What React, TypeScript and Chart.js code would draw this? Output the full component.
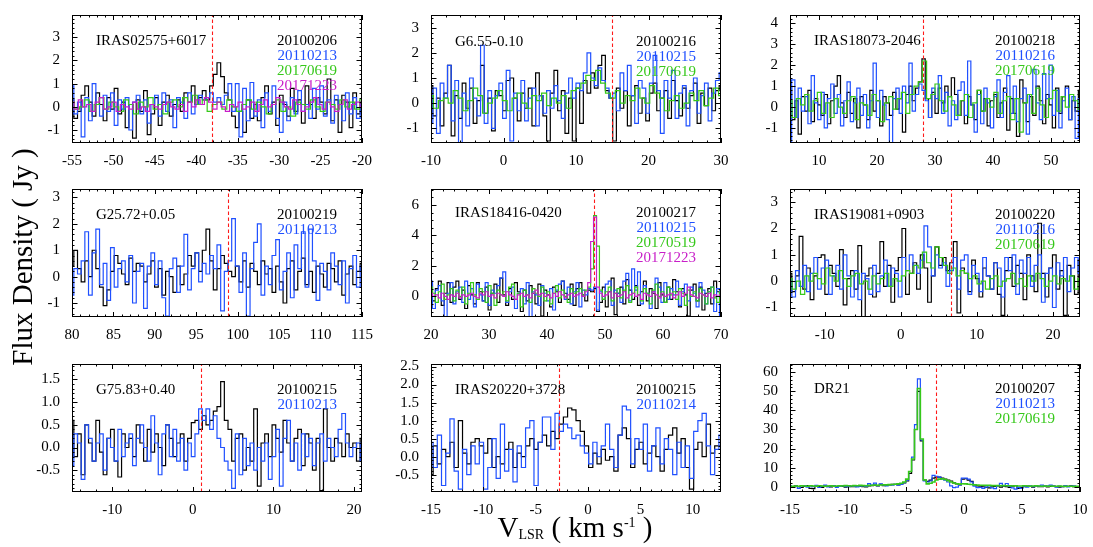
import React, { useEffect, useRef } from "react";
import { Chart, registerables } from "chart.js";

Chart.register(...registerables);

const FONT = "'Liberation Serif', 'Times New Roman', Times, serif";
const BLACK = "#000000";
const BLUE = "#1f50ff";
const GREEN = "#36c81a";
const MAGENTA = "#c81ec8";
const RED = "#ff1a1a";

// ---------------- Panel 1: IRAS02575+6017 ----------------
const p1Name = "IRAS02575+6017";
const p1Dates = ["20100206", "20110213", "20170619", "20171223"];
const p1XTicks = [-55, -50, -45, -40, -35, -30, -25, -20];
const p1YTicks = [-1, 0, 1, 2, 3];
const p1Vsys = -38.1;
const p1Black = [
  0.3, -0.5, -0.2, 0.5, 0.9, 0.2, -0.4, 0.6, 0.1, -0.6,
  0.4, -0.1, 0.8, -0.3, 0.2, -0.9, 0.1, -1.35, 0.3, -0.2,
  0.7, -1.2, -0.3, 0.4, -0.8, 0.2, 0.5, -0.4, 0.1, 0.3,
  -0.2, 0.6, 0.2, 0.9, 0.1, 0.4, 0.7, 0.3, 0.9, 1.4,
  1.9, 1.3, 0.6, 0.3, -0.4, -0.9, -0.2, -1.1, 0.3, -0.5,
  0.1, -0.6, 0.4, 0.9, -0.3, 0.2, -0.8, 0.5, 0.1, -0.4,
  0.8, -0.2, 0.3, -0.7, 0.9, 0.1, -0.5, 0.4, 0.2, -0.3,
  1.2, -0.6, 0.3, -1.1, 0.5, 0.2, -0.9, 0.6, -0.3, 0.2,
];
const p1Blue = [
  0.9, -0.3, 0.2, -1.3, 0.4, -0.6, 1.0, 0.1, -0.4, 0.5,
  -0.2, 0.6, -0.8, 0.3, -0.1, 0.4, -1.0, 0.2, 0.5, -0.3,
  0.3, -0.7, 0.1, 0.5, -0.4, 0.6, -0.2, 0.3, -0.9, 0.4,
  0.2, -0.5, 0.6, -0.3, 0.1, 0.5, 0.3, 0.4, 0.6, 0.2,
  0.4, 0.1, 0.5, 1.0, -0.2, 1.0, -1.3, 0.8, -0.6, 1.05,
  -0.4, 0.3, -0.9, 0.6, -0.2, 0.9, -0.5, -1.1, 0.2, -0.6,
  0.4, -0.3, 0.7, -0.2, 0.1, -0.5, 0.8, -0.1, 0.9, -0.4,
  0.3, -0.7, 0.5, 0.1, -0.6, 0.6, -0.3, 0.4, -0.5, 0.1,
];
const p1Green = [
  0.2, -0.1, 0.0, 0.3, -0.2, 0.1, 0.4, -0.1, 0.2, 0.0,
  -0.2, 0.3, 0.1, -0.3, 0.2, 0.0, 0.4, -0.1, 0.1, -0.3,
  0.2, 0.3, 0.0, 0.4, 0.2, 0.5, 0.1, 0.3, -0.2, 0.1,
  0.2, -0.1, 0.3, 0.0, -0.2, 0.1, 0.3, -0.1, 0.2, 0.0,
  -0.3, 0.1, 0.3, -0.2, 0.0, -0.4, 0.2, 0.1, -0.1, 0.3,
  0.0, -0.2, 0.2, 0.1, -0.1, 0.3, 0.0, 0.2, -0.1, 0.3,
];
const p1Magenta = [
  0.2, -0.1, 0.3, 0.0, 0.1, -0.2, 0.2, 0.4, -0.1, 0.0,
  0.2, -0.2, 0.1, 0.0, -0.1, 0.2, -0.1, 0.0, -0.2, 0.1,
  0.0, -0.1, 0.1, 0.2, 0.0, -0.1, 0.1, -0.2, 0.2, 0.0,
  0.3, 0.1, 0.4, 0.2, -0.1, 0.2, 0.0, -0.2, 0.1, 0.0,
  0.2, -0.1, 0.0, 0.2, -0.2, 0.1, 0.3, 0.0, 0.1, 0.4,
  0.2, 0.0, -0.1, 0.3, 0.1, -0.2, 0.0, 0.2, 0.4, 0.1,
  -0.1, 0.2, 0.0, -0.2, 0.1, 0.3, -0.1, 0.1, 0.2, 0.0,
];

// ---------------- Panel 2: G6.55-0.10 ----------------
const p2Name = "G6.55-0.10";
const p2Dates = ["20100216", "20110215", "20170619"];
const p2XTicks = [-10, 0, 10, 20, 30];
const p2YTicks = [-1, 0, 1, 2, 3];
const p2Vsys = 15.0;
const p2Black = [
  0.7, -0.5, 0.2, -0.9, 0.4, 1.5, -1.3, 0.3, -0.6, 0.8,
  -0.2, 0.6, -0.8, 0.1, 1.5, -0.4, 0.2, -1.1, 0.5, 0.3,
  -0.3, 0.9, 1.0, 0.2, -0.7, 0.4, -0.2, 0.6, -0.9, 1.2,
  0.3, -0.5, -1.5, 0.4, 1.3, -0.3, 0.5, -1.2, 0.2, -1.5,
  0.6, -0.8, 0.9, 0.4, 1.2, 0.6, 1.5, 1.9, 0.5, 0.2,
  -1.5, 0.6, -0.2, 0.5, -0.9, 0.3, 0.7, -0.4, 0.2, -0.7,
  0.4, 0.8, -0.3, 0.2, 0.5, -0.6, 0.9, 0.1, -0.5, 0.6,
  -0.2, 0.3, 0.8, -0.8, 0.4, -0.1, 0.6, -0.3, 0.5, 0.7,
];
const p2Blue = [
  -0.8, 0.6, -1.2, 0.8, 0.2, 1.5, -0.7, 0.9, -1.6, 0.4,
  -0.9, 1.0, 0.2, -0.5, 2.3, -0.8, 0.5, -1.0, 0.3, 0.8,
  -0.6, 1.3, -1.5, 0.4, -0.3, 0.9, -0.7, 0.2, 0.6, -0.9,
  0.3, -0.4, 0.5, -0.2, 0.7, 0.1, -0.6, 0.4, 1.0, 0.2,
  0.8, 0.5, 1.2, 2.0, 1.0, 0.7, 1.4, 0.9, 0.6, 0.2,
  0.4, -0.3, 1.2, 0.5, 1.5, 0.3, -0.8, 0.9, 0.6, -0.4,
  0.8, 1.9, 0.5, -1.2, 0.9, 0.2, 1.3, -0.6, 0.4, 0.7,
  -0.9, 0.5, 1.0, -0.4, 0.3, 0.8, -0.7, 0.4, 0.9, 1.2,
];
const p2Green = [
  0.3, -0.2, 0.1, 0.2, 0.0, 0.5, 0.2, -0.3, 0.1, 0.6,
  0.3, -0.4, 0.0, 0.2, 0.5, 0.1, -0.3, 0.2, 0.4, 0.0,
  -0.2, 0.3, 0.1, 0.4, -0.1, 0.2, 0.0, 0.3, -0.2, 0.5,
  0.6, 0.8, 1.1, 0.9, 1.3, 0.8, 0.4, 0.2, 0.5, 0.0,
  0.3, 0.1, 0.6, 0.2, 0.0, 0.7, 0.4, 0.2, -0.3, 0.1,
  0.3, -0.2, 0.0, 0.4, 0.1, 0.5, -0.1, 0.2, 0.6, 0.3,
];

// ---------------- Panel 3: IRAS18073-2046 ----------------
const p3Name = "IRAS18073-2046";
const p3Dates = ["20100218", "20110216", "20170619"];
const p3XTicks = [10, 20, 30, 40, 50];
const p3YTicks = [-1, 0, 1, 2, 3, 4];
const p3Vsys = 28.0;
const p3Black = [
  1.0, -0.6, 0.3, -1.3, 0.5, -0.2, 0.8, -0.7, 0.4, 0.1,
  -0.4, 0.6, -0.8, 0.3, 1.0, 1.5, 0.2, -0.5, 0.7, -0.3,
  0.4, -1.0, 0.5, 0.1, -0.6, 0.8, -0.2, 0.3, -0.9, 0.5,
  0.2, -0.4, 0.7, -0.1, 0.4, -1.2, 0.6, 1.0, 0.3, 0.9,
  1.2, 2.3, 0.4, -0.5, 0.7, -0.3, 0.9, 0.2, 1.0, 0.5,
  1.4, 0.6, -0.4, 0.3, -0.8, 0.5, 0.1, -0.6, 0.8, -0.2,
  0.4, -0.9, 0.3, 0.6, -0.5, 0.2, 0.9, -1.1, 0.4, -0.3,
  -1.4, 1.3, 0.2, -0.7, 0.5, -0.4, 1.0, 0.3, -0.8, 0.6,
  0.1, -1.0, 0.9, -0.3, 0.5, 1.0, -0.6, 0.3, -0.2, 0.8,
];
const p3Blue = [
  -1.7, 1.3, -0.5, 0.9, -0.2, 0.5, -0.8, 1.5, 0.2, -0.6,
  0.7, -1.0, 0.4, 1.1, -0.3, 0.6, -0.9, 0.3, 1.2, -0.7,
  0.2, 0.9, -0.4, 0.6, -1.0, 0.3, 2.1, -0.5, 0.8, 0.1,
  -0.6, -1.7, 0.4, 0.9, -0.3, 1.0, 0.2, 2.1, -0.2, 0.6,
  1.1, 0.8, 0.3, -0.5, 0.9, 0.4, 1.5, -0.3, 0.7, -0.9,
  0.3, -0.6, 0.8, 1.2, -0.4, 2.2, 0.1, -1.2, 0.6, -0.8,
  0.9, 0.2, -1.0, 0.5, 1.3, -0.5, 0.7, 1.5, -0.3, 1.0,
  -0.7, 0.4, 0.9, -1.3, 0.6, 1.8, 0.2, -0.6, 1.6, 0.4,
  2.0, -0.4, 0.8, -1.0, 0.3, 0.9, -0.6, 0.5, -1.5, 0.4,
];
const p3Green = [
  0.3, -0.5, 0.4, 0.1, 0.6, -0.2, 0.3, 0.7, -0.3, 0.2,
  -0.5, 0.4, 0.0, -0.3, 0.3, 0.5, -0.6, 0.2, 0.1, -0.4,
  0.6, 0.3, -0.7, 0.2, 0.5, -0.1, 0.4, 0.7, -0.3, 0.6,
  1.0, 1.2, 2.2, 0.4, 0.6, 1.1, 0.3, -0.2, 0.5, 0.1,
  -0.4, 0.3, 0.6, -0.5, 0.2, 0.8, -0.2, 0.4, 0.0, 0.7,
  -0.3, 0.3, 0.5, -0.6, 0.4, -1.2, 0.2, 0.6, -0.3, 0.9,
  0.1, -0.5, 0.4, 0.8, -0.2, 0.5, 0.0, 0.6, 0.3, -0.1,
];

// ---------------- Panel 4: G25.72+0.05 ----------------
const p4Name = "G25.72+0.05";
const p4Dates = ["20100219", "20110213"];
const p4XTicks = [80, 85, 90, 95, 100, 105, 110, 115];
const p4YTicks = [-1, 0, 1, 2, 3];
const p4Vsys = 98.8;
const p4Black = [
  0.4, 1.0, 0.3, -0.2, 0.6, 0.0, 1.0, 0.3, -0.4, -1.1,
  -0.5, 0.2, 0.8, 0.5, 0.1, -0.3, 0.7, 0.2, 0.5, 0.4,
  -0.2, 0.1, 0.6, -0.4, 0.3, -0.7, 0.2, 0.0, -0.6, 0.4,
  -0.3, 0.1, 0.8, 0.4, 0.9, 0.2, 1.0, 1.8, 0.6, -0.5,
  0.3, 0.8, 0.5, 0.2, 0.0, 0.4, -0.2, 0.6, -0.4, 0.5,
  0.2, -0.3, 0.6, 0.1, 0.3, -0.6, 0.4, -0.2, -1.0, 0.3,
  0.6, -0.5, 0.2, 0.7, -0.3, 0.2, -0.6, 0.4, 0.1, -0.4,
  0.5, 0.3, -0.2, 0.6, -0.7, 0.1, 0.4, -0.3, 0.2, 0.5,
];
const p4Blue = [
  -0.7, 0.3, 0.1, 0.6, 1.7, -0.7, 0.9, 1.8, -0.3, 0.5,
  -0.9, 1.1, -0.4, 0.3, 0.6, -0.2, 0.8, -1.0, 0.2, 0.5,
  -1.2, 0.4, 0.9, -0.3, 0.6, -0.8, -1.5, 0.3, 0.7, -0.6,
  0.4, 1.6, -0.5, 0.3, 0.9, -0.2, 0.5, 0.1, 0.8, 0.3,
  1.2, -1.3, 0.2, 0.6, 2.2, 0.4, -0.6, 0.9, -1.5, 0.3,
  1.3, 2.0, -0.7, 0.4, -0.3, 0.8, 1.4, -0.5, 0.2, 0.9,
  -0.8, 1.2, 0.3, 1.7, -0.4, 1.8, 0.6, -0.9, 0.5, 0.2,
  -0.5, 0.9, 0.4, -0.3, 0.6, -1.0, 0.3, 0.8, -0.4, 0.4,
];

// ---------------- Panel 5: IRAS18416-0420 ----------------
const p5Name = "IRAS18416-0420";
const p5Dates = ["20100217", "20110215", "20170519", "20171223"];
const p5XTicks = [20, 30, 40, 50, 60, 70];
const p5YTicks = [0, 2, 4, 6];
const p5Vsys = 48.1;
const p5Black = [
  0.8, -0.3, 0.5, 1.0, -0.6, 0.2, 0.9, -0.4, 0.6, 1.0,
  -0.2, 0.4, -0.8, 0.7, 0.1, -0.5, 0.9, 0.3, -0.3, 0.6,
  -0.9, 0.2, 0.8, -0.4, 1.2, 0.1, -0.6, 0.5, -0.2, 0.9,
  0.3, -1.0, 0.4, -0.3, 0.7, 0.2, -0.5, 0.8, -1.3, 0.4,
  0.1, -0.7, 0.6, 0.3, -0.4, 1.0, 0.2, -0.2, 0.8, -0.6,
  0.5, 0.9, 0.1, -0.3, 0.4, 0.3, 0.5, -1.0, -0.4, 0.6,
  -0.7, 0.3, 1.2, -1.2, 0.2, 0.6, -0.5, 1.1, 0.4, -0.2,
  0.7, -0.6, 0.3, 1.0, -0.3, 0.5, 0.2, -0.8, 0.9, 0.1,
  -0.4, 0.6, -0.2, 1.1, 0.3, -0.7, 0.5, 0.1, -1.3, 0.4,
  0.8, -0.3, 0.6, -0.9, 0.2, 0.5, -0.5, 1.0, 0.3, -0.2,
];
const p5Blue = [
  1.0, -0.8, 0.4, 0.7, -0.3, -1.4, 0.2, 0.9, -0.5, 0.3,
  0.6, -0.4, 1.0, -0.2, 0.5, -0.7, 0.8, 0.1, -0.3, 0.9,
  -0.6, 0.4, 0.2, 0.7, 1.2, 1.6, -0.4, 0.3, 0.6, -0.8,
  0.2, 0.5, -0.5, 0.9, -1.4, 0.3, 0.1, -0.6, 0.7, 0.2,
  -0.3, 0.5, -0.9, 0.4, 0.8, 1.0, -0.2, 0.6, -0.5, 0.3,
  0.9, -0.7, 0.4, 0.1, 0.5, 0.4, 0.6, -0.9, 0.3, -0.2,
  0.8, 1.0, -0.6, 0.4, 0.2, -0.4, 1.0, 1.5, -0.3, 1.8,
  0.4, 1.6, -0.5, 0.7, 0.2, -0.8, 0.3, 1.2, 0.6, -0.4,
  0.9, -0.2, 0.5, 0.1, 1.0, -0.6, 0.3, 0.8, -0.3, 0.6,
  0.2, -0.7, 0.9, 0.4, -0.5, 0.3, 0.6, -1.0, 0.5, -1.4,
];
const p5Green = [
  0.6, 0.2, -0.4, 0.3, 0.8, -0.2, 0.1, 0.5, -0.3, 0.4,
  0.0, 0.6, -0.5, 0.2, 0.9, 0.1, -0.2, 0.5, 0.3, -0.4,
  0.7, 0.2, -0.6, 0.4, 0.1, 0.3, -0.3, 0.6, 0.8, -0.2,
  0.2, -0.7, 0.4, 0.1, -0.4, 0.5, 0.2, 0.0, 0.6, -0.3,
  0.3, -0.5, 0.2, 0.7, -0.1, 0.4, 0.0, -0.4, 0.5, 0.2,
  0.3, 0.5, 0.1, 0.4, 0.6, 1.8, 5.3, 3.3, 0.4, -0.2,
  0.3, 0.6, -0.3, 0.2, 0.5, -0.1, 0.4, 0.7, -0.4, 0.2,
  0.6, 0.1, -0.3, 0.5, 0.2, -0.5, 0.4, 0.8, 0.0, 0.3,
  -0.4, 0.6, 0.1, 0.3, -0.2, 0.5, 0.2, -0.6, 0.4, 0.0,
  0.3, -0.3, 0.5, 0.1, -0.5, 0.3, 0.6, -0.1, -0.4, 0.3,
];
const p5Magenta = [
  0.2, 0.0, 0.1, -0.1, 0.2, 0.0, -0.2, 0.1, 0.0, 0.2,
  -0.1, 0.1, 0.0, 0.1, 0.2, 0.0, -0.1, 0.2, 0.1, 0.3,
  0.0, 0.1, -0.1, 0.2, 0.1, 0.0, 0.3, 0.1, 0.0, -0.2,
  0.1, 0.2, 0.0, 0.1, -0.1, 0.2, 0.4, 0.1, 0.2, 0.0,
  0.1, -0.1, 0.2, 0.0, 0.3, 0.1, -0.1, 0.1, 0.2, 0.0,
  0.1, 0.2, 0.0, 0.3, 0.9, 3.6, 5.2, 0.6, 0.2, 0.0,
  0.1, 0.3, -0.1, 0.2, 0.0, 0.1, 0.3, -0.1, 0.1, 0.2,
  0.0, 0.1, -0.2, 0.2, 0.1, 0.0, 0.3, 0.1, -0.1, 0.2,
  0.0, 0.1, 0.2, -0.1, 0.1, 0.3, 0.0, 0.2, 0.6, 0.1,
  0.0, -0.1, 0.2, 0.1, 0.0, 0.2, -0.1, 0.1, 0.0, 0.1,
];

// ---------------- Panel 6: IRAS19081+0903 ----------------
const p6Name = "IRAS19081+0903";
const p6Dates = ["20100220", "20110216", "20170619"];
const p6XTicks = [-10, 0, 10, 20];
const p6YTicks = [-1, 0, 1, 2, 3];
const p6Vsys = 6.65;
const p6Black = [
  0.3, -0.4, 0.2, 1.7, -0.3, 0.5, -0.7, 0.2, 0.9, 1.0,
  -0.5, 0.6, 0.3, -0.2, 1.2, -0.9, 0.1, 0.4, -0.3, 1.35,
  -1.4, 0.2, 0.5, -0.6, 0.3, 1.5, -0.2, 0.6, -0.8, 0.4,
  0.9, 2.0, -0.5, 0.3, 0.7, -0.3, 1.0, 0.5, -0.8, 0.2,
  1.3, 0.6, 0.9, 0.4, 0.7, 1.5, -1.2, 0.5, 0.3, -0.4,
  0.8, 0.1, -0.6, 0.5, 0.2, -0.3, 0.7, -0.5, -1.3, 0.4,
  0.9, -0.2, 0.6, 0.3, -0.7, 1.0, 0.2, -0.4, 2.2, 0.3,
  -0.6, 0.5, 1.0, -0.3, 0.4, -1.3, 0.6, 0.2, -0.5, 0.8,
];
const p6Blue = [
  0.1, -0.6, 0.4, -0.2, 0.6, -0.4, 0.3, 0.9, -0.3, 0.5,
  0.8, -0.5, 0.2, 0.6, -0.3, 1.0, 0.2, -0.6, 0.4, -0.7,
  0.3, 0.1, -0.5, 0.6, -0.4, 0.2, 0.8, -0.2, 0.5, 0.3,
  -0.6, 0.9, 0.4, 1.0, 0.6, 0.3, 0.8, 2.1, 1.3, 0.2,
  1.0, 0.5, 0.7, -0.2, 0.4, 0.9, -0.3, 0.8, 1.0, -0.5,
  0.6, 0.3, -0.4, 0.9, 0.2, -0.3, 0.7, 0.5, -0.6, 0.9,
  0.4, 1.0, -0.5, 0.8, 0.3, 0.9, -0.2, 0.6, 1.0, -0.8,
  0.3, 0.5, -1.0, 0.7, 0.2, 0.9, -0.4, 0.5, 0.9, 0.3,
];
const p6Green = [
  0.1, -0.3, 0.0, -0.5, 0.2, 0.0, 0.3, 0.1, -0.1, 0.5,
  0.2, 0.0, 0.4, 0.1, -0.2, 0.2, 0.3, -0.1, 0.0, -0.3,
  0.2, -0.1, 0.1, 0.3, -0.2, 0.1, 0.0, 0.2, 0.4, 0.3,
  0.6, 0.5, 1.1, 0.7, 0.5, 1.3, 0.9, 0.6, 0.3, 0.5,
  0.2, 0.4, 0.3, 0.1, 0.2, -0.1, 0.0, -0.3, 0.1, 0.2,
  -0.2, 0.0, 0.1, 0.3, -0.1, 0.1, -0.2, 0.2, 0.0, 0.3,
  0.1, -0.2, 0.0, 0.2, -0.1, 0.1, 0.0, 0.2, -0.3, 0.1,
];

// ---------------- Panel 7: G75.83+0.40 ----------------
const p7Name = "G75.83+0.40";
const p7Dates = ["20100215", "20110213"];
const p7XTicks = [-10, 0, 10, 20];
const p7YTicks = [-0.5, 0.0, 0.5, 1.0, 1.5];
const p7Vsys = 1.0;
const p7Black = [
  0.6, -0.2, 0.3, -0.6, 0.5, 0.1, -0.3, 0.6, -0.1, -0.6,
  0.2, 0.4, -0.3, -0.65, 0.3, 0.0, 0.2, -0.2, 0.5, 0.1,
  -0.3, 0.4, -0.1, 0.3, 0.0, -0.4, 0.5, 0.2, -0.2, 0.1,
  0.3, -0.3, 0.2, 0.55, 0.6, 0.4, 0.7, 0.5, 0.6, 0.8,
  0.9, 1.45, 0.6, 0.4, -0.3, 0.2, 0.3, -0.5, 0.0, -0.3,
  0.85, -0.85, 0.1, 0.3, -0.2, 0.5, 0.2, -0.1, 0.6, 0.1,
  -0.3, 0.2, 0.4, -0.4, 0.3, 0.1, -0.5, 0.2, -0.95, 0.85,
  0.0, -0.3, 0.2, 0.1, -0.2, 0.3, 0.0, 0.1, -0.3, 0.2,
];
const p7Blue = [
  -0.4, 0.3, 0.1, -0.7, 0.5, 0.2, -0.3, 0.1, 0.3, -0.5,
  0.2, 0.0, -0.3, 0.4, -0.2, 0.1, 0.3, -0.4, 0.2, 0.5,
  0.0, -0.3, 0.7, 0.1, -0.6, 0.3, 0.5, -0.2, 0.4, -0.3,
  0.2, -0.5, 0.1, -0.2, 0.3, 0.85, 0.6, 0.85, 0.4, 0.7,
  0.2, 0.0, -0.3, -0.5, -0.9, 0.3, -0.6, 0.2, -0.4, 0.1,
  -0.5, 0.0, -0.3, 0.1, -0.7, -0.2, 0.4, -0.85, 0.2, 0.6,
  -0.3, 0.1, -0.5, 0.3, -0.2, 0.2, -0.4, 0.1, 0.3, -0.3,
  0.2, 0.0, -0.2, 0.4, 0.75, 0.1, -0.2, 0.0, 0.1, -0.3,
];

// ---------------- Panel 8: IRAS20220+3728 ----------------
const p8Name = "IRAS20220+3728";
const p8Dates = ["20100215", "20110214"];
const p8XTicks = [-15, -10, -5, 0, 5, 10];
const p8YTicks = [-0.5, 0.0, 0.5, 1.0, 1.5, 2.0, 2.5];
const p8Vsys = -2.8;
const p8Black = [
  -0.5, 0.3, -0.2, 0.2, 0.0, 0.4, -0.3, 1.0, 0.1, -0.2,
  0.4, 0.5, 0.3, 0.1, 0.5, -0.3, 0.0, -0.2, 0.2, 0.4,
  -0.3, 0.1, 0.0, 0.3, 0.5, 0.2, 0.4, 0.6, 0.3, 0.7,
  0.5, 0.9, 1.1, 1.35, 1.3, 1.0, 0.7, 0.3, -0.3, 0.1,
  -0.2, 0.2, -0.1, 0.0, -0.4, 0.6, 0.8, 0.5, -0.3, 0.2,
  0.4, -0.2, 0.1, 0.3, 0.0, -0.4, 0.2, 0.6, 0.8, 0.1,
  0.5, -0.3, -0.9, 0.2, 0.4, 0.0, 0.9, 0.1, 0.3, 0.3,
];
const p8Blue = [
  0.4, -0.3, 0.6, -0.8, 0.1, 1.05, -0.4, -0.9, 0.2, -0.5,
  0.3, -0.2, 0.4, -0.9, -0.3, 0.5, -0.6, 0.9, -0.4, 0.2,
  -0.7, 0.3, -0.3, 0.8, 1.0, -0.8, 0.4, 1.1, 1.1, 0.2,
  1.2, 0.7, 0.9, 0.8, 0.5, 0.6, 0.3, 0.1, -0.2, 0.4,
  0.0, 0.3, 0.9, 0.2, -0.3, 0.6, 1.4, 1.3, -0.2, 0.5,
  0.2, 0.9, -0.4, 0.3, 0.8, -0.2, 0.5, 0.2, -0.5, 0.4,
  -0.3, 0.3, -0.6, 0.7, 1.0, 1.2, 0.3, -0.5, 0.2, 0.6,
];

// ---------------- Panel 9: DR21 ----------------
const p9Name = "DR21";
const p9Dates = ["20100207", "20110213", "20170619"];
const p9XTicks = [-15, -10, -5, 0, 5, 10];
const p9YTicks = [0, 10, 20, 30, 40, 50, 60];
const p9Vsys = -2.45;
const p9Black = [
  0.3, -0.2, 0.5, 0.1, -0.4, 0.2, 0.6, -0.8, -1.0, 0.3,
  0.1, -0.3, 0.5, 0.2, -0.1, 0.4, 0.0, 0.6, 0.2, -0.2,
  0.3, 0.1, 0.0, 0.4, 0.2, 0.1, -0.1, 0.5, 0.6, 0.9,
  0.4, 1.2, 0.6, 0.9, 1.0, 1.3, 1.2, 1.0, 1.4, 2.0,
  3.0, 7.0, 14.0, 30.0, 50.0, 24.0, 3.5, 2.8, 3.5, 4.5,
  5.0, 5.0, 4.5, 4.0, 3.5, 3.0, 2.0, 1.5, 1.0, 4.0,
  4.2, 3.5, 2.8, 1.0, 0.5, 0.3, 0.0, -0.3, -0.6, 0.0,
  0.2, 0.5, -0.2, 0.3, 0.0, -0.4, 0.3, 0.6, -0.8, -0.5,
  0.0, 0.3, 0.2, -0.2, 0.4, 0.1, 0.0, 0.3, -0.1, 0.2,
  0.4, 0.1, -0.2, 0.0, 0.3, 0.2, 0.5, 0.1, -0.2, 0.0,
];
const p9Blue = [
  0.5, -0.3, 0.2, -0.8, 0.4, 0.6, -0.2, 0.3, 0.1, 0.7,
  -0.4, 0.2, 0.8, -0.1, 0.3, 0.5, -0.3, 0.2, 0.6, 0.1,
  0.0, 0.4, 0.2, -0.1, 0.3, 0.5, 0.2, 1.6, 0.8, 1.9,
  0.6, 1.5, 0.9, 0.4, 1.1, 0.8, 1.3, 0.9, 1.2, 2.2,
  3.5, 8.0, 15.5, 32.5, 56.5, 24.5, 3.0, 2.5, 3.0, 6.0,
  5.5, 5.0, 4.0, 3.5, 2.5, 0.5, -0.5, -0.2, 1.0, 4.5,
  4.5, 4.0, 2.5, 0.3, -0.5, -0.3, -0.8, -0.2, 0.5, -0.6,
  -1.0, 0.4, 1.8, 0.6, 1.7, 0.2, -0.6, -1.2, -0.3, -0.8,
  0.2, -0.2, 0.5, 0.1, 0.6, 0.3, 0.8, 0.2, 0.5, 0.9,
  0.3, -0.2, 0.4, 0.1, 0.6, -0.1, 0.3, 0.5, 0.0, -0.4,
];
const p9Green = [
  0.3, 0.2, 0.4, 0.3, 0.5, 0.4, 0.3, 0.5, 0.4, 0.3,
  0.5, 0.4, 0.3, 0.4, 0.5, 0.3, 0.4, 0.5, 0.4, 0.6,
  0.5, 0.4, 0.6, 0.5, 0.7, 0.6, 0.5, 0.7, 0.8, 0.9,
  0.8, 0.9, 1.0, 1.0, 1.1, 1.2, 1.3, 1.5, 1.8, 2.5,
  4.0, 8.0, 14.5, 30.0, 51.5, 25.0, 3.5, 1.5, 1.8, 2.5,
  3.5, 4.0, 4.2, 3.8, 3.2, 2.5, 2.0, 1.6, 1.4, 1.6,
  1.5, 1.3, 1.2, 1.0, 0.9, 0.8, 0.8, 0.7, 0.7, 0.6,
  0.6, 0.6, 0.5, 0.6, 0.5, 0.5, 0.4, 0.5, 0.4, 0.4,
  0.5, 0.4, 0.3, 0.4, 0.5, 0.4, 0.3, 0.4, 0.3, 0.4,
  0.3, 0.3, 0.4, 0.3, 0.2, 0.3, 0.3, 0.2, 0.3, 0.2,
];

// ---------------- layout ----------------
type Series = { date: string; color: string; values: number[]; width?: number };
type PanelDef = {
  id: string;
  name: string;
  left: number;
  top: number;
  xMin: number;
  xMax: number;
  yMin: number;
  yMax: number;
  xTicks: number[];
  yTicks: number[];
  xMinor: number;
  yMinor: number;
  yDecimals: number;
  vsys: number;
  labelDy: number;
  series: Series[];
};

const PLOT_W = 290;
const PLOT_H = 139;
const PAD_L = 60;
const PAD_T = 10;
const PAD_R = 22;
const X_H = 28;
const CAN_W = PAD_L + PLOT_W + PAD_R;
const CAN_H = PAD_T + PLOT_H + X_H;

const COL = [72, 431, 790];
const ROW = [4, 178, 353];

function ser(dates: string[], lists: number[][], colors: string[]): Series[] {
  return lists.map((values, k) => ({ date: dates[k], color: colors[k], values }));
}

const PANELS: PanelDef[] = [
  {
    id: "p1", name: p1Name, left: COL[0], top: ROW[0], xMin: -55, xMax: -20, yMin: -1.56, yMax: 3.96,
    xTicks: p1XTicks, yTicks: p1YTicks, xMinor: 5, yMinor: 5, yDecimals: 0, vsys: p1Vsys, labelDy: 26.5,
    series: ser(p1Dates, [p1Black, p1Blue, p1Green, p1Magenta], [BLACK, BLUE, GREEN, MAGENTA]),
  },
  {
    id: "p2", name: p2Name, left: COL[1], top: ROW[0], xMin: -10, xMax: 30, yMin: -1.58, yMax: 3.5,
    xTicks: p2XTicks, yTicks: p2YTicks, xMinor: 5, yMinor: 5, yDecimals: 0, vsys: p2Vsys, labelDy: 27,
    series: ser(p2Dates, [p2Black, p2Blue, p2Green], [BLACK, BLUE, GREEN]),
  },
  {
    id: "p3", name: p3Name, left: COL[2], top: ROW[0], xMin: 5, xMax: 55, yMin: -1.72, yMax: 4.4,
    xTicks: p3XTicks, yTicks: p3YTicks, xMinor: 5, yMinor: 5, yDecimals: 0, vsys: p3Vsys, labelDy: 26.5,
    series: ser(p3Dates, [p3Black, p3Blue, p3Green], [BLACK, BLUE, GREEN]),
  },
  {
    id: "p4", name: p4Name, left: COL[0], top: ROW[1], xMin: 80, xMax: 115, yMin: -1.53, yMax: 3.32,
    xTicks: p4XTicks, yTicks: p4YTicks, xMinor: 5, yMinor: 5, yDecimals: 0, vsys: p4Vsys, labelDy: 26.5,
    series: ser(p4Dates, [p4Black, p4Blue], [BLACK, BLUE]),
  },
  {
    id: "p5", name: p5Name, left: COL[1], top: ROW[1], xMin: 20, xMax: 70, yMin: -1.36, yMax: 7.05,
    xTicks: p5XTicks, yTicks: p5YTicks, xMinor: 5, yMinor: 4, yDecimals: 0, vsys: p5Vsys, labelDy: 24.5,
    series: ser(p5Dates, [p5Black, p5Blue, p5Green, p5Magenta], [BLACK, BLUE, GREEN, MAGENTA]),
  },
  {
    id: "p6", name: p6Name, left: COL[2], top: ROW[1], xMin: -14.55, xMax: 23.55, yMin: -1.36, yMax: 3.5,
    xTicks: p6XTicks, yTicks: p6YTicks, xMinor: 5, yMinor: 5, yDecimals: 0, vsys: p6Vsys, labelDy: 26,
    series: ser(p6Dates, [p6Black, p6Blue, p6Green], [BLACK, BLUE, GREEN]),
  },
  {
    id: "p7", name: p7Name, left: COL[0], top: ROW[2], xMin: -15, xMax: 21, yMin: -0.98, yMax: 1.84,
    xTicks: p7XTicks, yTicks: p7YTicks, xMinor: 5, yMinor: 5, yDecimals: 1, vsys: p7Vsys, labelDy: 26.5,
    series: ser(p7Dates, [p7Black, p7Blue], [BLACK, BLUE]),
  },
  {
    id: "p8", name: p8Name, left: COL[1], top: ROW[2], xMin: -15, xMax: 12.7, yMin: -0.98, yMax: 2.57,
    xTicks: p8XTicks, yTicks: p8YTicks, xMinor: 5, yMinor: 5, yDecimals: 1, vsys: p8Vsys, labelDy: 26.5,
    series: ser(p8Dates, [p8Black, p8Blue], [BLACK, BLUE]),
  },
  {
    id: "p9", name: p9Name, left: COL[2], top: ROW[2], xMin: -15, xMax: 10, yMin: -2.75, yMax: 64.3,
    xTicks: p9XTicks, yTicks: p9YTicks, xMinor: 5, yMinor: 5, yDecimals: 0, vsys: p9Vsys, labelDy: 25.5,
    series: ser(p9Dates, [p9Black, p9Blue, p9Green], [BLACK, BLUE, GREEN]),
  },
];

function minorValues(ticks: number[], n: number, min: number, max: number): number[] {
  const step = (ticks[1] - ticks[0]) / n;
  const out: number[] = [];
  for (let v = ticks[0]; v >= min - 1e-9; v -= step) out.push(v);
  for (let v = ticks[0] + step; v <= max + 1e-9; v += step) out.push(v);
  return out;
}

function decorPlugin(p: PanelDef) {
  return {
    id: "decor_" + p.id,
    afterDatasetsDraw(chart: any) {
      const { ctx, chartArea: a, scales } = chart;
      const xs = scales.x;
      const ys = scales.y;
      ctx.save();
      // systemic velocity marker
      const vx = Math.round(xs.getPixelForValue(p.vsys)) + 0.5;
      ctx.strokeStyle = RED;
      ctx.lineWidth = 1.1;
      ctx.setLineDash([3.5, 2.5]);
      ctx.beginPath();
      ctx.moveTo(vx, a.bottom);
      ctx.lineTo(vx, a.top);
      ctx.stroke();
      ctx.setLineDash([]);

      // frame
      ctx.strokeStyle = "#000";
      ctx.lineWidth = 1;
      ctx.strokeRect(a.left + 0.5, a.top + 0.5, a.right - a.left - 1, a.bottom - a.top - 1);

      // ticks (inward on all sides)
      ctx.beginPath();
      const xTick = (v: number, len: number) => {
        const px = Math.round(xs.getPixelForValue(v)) + 0.5;
        ctx.moveTo(px, a.bottom);
        ctx.lineTo(px, a.bottom - len);
        ctx.moveTo(px, a.top);
        ctx.lineTo(px, a.top + len);
      };
      const yTick = (v: number, len: number) => {
        const py = Math.round(ys.getPixelForValue(v)) + 0.5;
        ctx.moveTo(a.left, py);
        ctx.lineTo(a.left + len, py);
        ctx.moveTo(a.right, py);
        ctx.lineTo(a.right - len, py);
      };
      minorValues(p.xTicks, p.xMinor, p.xMin, p.xMax).forEach((v) => xTick(v, 2.5));
      minorValues(p.yTicks, p.yMinor, p.yMin, p.yMax).forEach((v) => yTick(v, 2.5));
      p.xTicks.forEach((v) => xTick(v, 5));
      p.yTicks.forEach((v) => yTick(v, 5.5));
      ctx.stroke();

      // labels
      ctx.font = `15px ${FONT}`;
      ctx.textBaseline = "middle";
      ctx.textAlign = "left";
      ctx.fillStyle = "#000";
      ctx.fillText(p.name, a.left + 24, a.top + p.labelDy);
      ctx.textAlign = "right";
      p.series.forEach((s, k) => {
        ctx.fillStyle = s.color;
        ctx.fillText(s.date, a.right - 25, a.top + p.labelDy + k * 15);
      });
      ctx.restore();
    },
  };
}

function buildConfig(p: PanelDef): any {
  const n = p.series.length;
  return {
    type: "line",
    data: {
      datasets: p.series.map((s, k) => ({
        label: s.date,
        data: s.values.map((v, i) => ({
          x: p.xMin + (i * (p.xMax - p.xMin)) / (s.values.length - 1),
          y: v,
        })),
        borderColor: s.color,
        borderWidth: s.color === GREEN && p.id === "p9" ? 1.6 : 1.2,
        pointRadius: 0,
        stepped: "middle",
        fill: false,
        order: n - k,
      })),
    },
    options: {
      animation: false,
      responsive: false,
      maintainAspectRatio: false,
      events: [],
      layout: { padding: { left: 0, top: PAD_T, right: PAD_R, bottom: 0 } },
      plugins: { legend: { display: false }, tooltip: { enabled: false }, title: { display: false } },
      scales: {
        x: {
          type: "linear",
          position: "bottom",
          min: p.xMin,
          max: p.xMax,
          grid: { display: false, drawTicks: false },
          border: { display: false },
          afterBuildTicks: (axis: any) => {
            axis.ticks = p.xTicks.map((value) => ({ value }));
          },
          afterFit: (axis: any) => {
            axis.height = X_H;
          },
          ticks: {
            autoSkip: false,
            maxRotation: 0,
            minRotation: 0,
            padding: 9.5,
            color: "#000",
            font: { family: FONT, size: 15 },
            callback: (v: any) => String(v),
          },
        },
        y: {
          type: "linear",
          position: "left",
          min: p.yMin,
          max: p.yMax,
          grid: { display: false, drawTicks: false },
          border: { display: false },
          afterBuildTicks: (axis: any) => {
            axis.ticks = p.yTicks.map((value) => ({ value }));
          },
          afterFit: (axis: any) => {
            axis.width = PAD_L;
          },
          ticks: {
            autoSkip: false,
            padding: 12,
            color: "#000",
            font: { family: FONT, size: 15 },
            callback: (v: any) => Number(v).toFixed(p.yDecimals),
          },
        },
      },
    },
    plugins: [decorPlugin(p)],
  };
}

function Panel({ def }: { def: PanelDef }) {
  const ref = useRef<HTMLCanvasElement | null>(null);
  useEffect(() => {
    if (!ref.current) return;
    const chart = new Chart(ref.current, buildConfig(def));
    return () => chart.destroy();
  }, [def]);
  return (
    <canvas
      ref={ref}
      width={CAN_W}
      height={CAN_H}
      style={{
        position: "absolute",
        left: def.left - PAD_L,
        top: def.top - PAD_T,
        width: CAN_W,
        height: CAN_H,
      }}
    />
  );
}

export default function App() {
  return (
    <div
      style={{
        position: "absolute",
        left: 0,
        top: 0,
        width: 1093,
        height: 547,
        background: "#fff",
        overflow: "hidden",
        fontFamily: FONT,
      }}
    >
      {PANELS.map((p) => (
        <Panel key={p.id} def={p} />
      ))}
      <div
        style={{
          position: "absolute",
          left: 22 - 150,
          top: 257 - 17,
          width: 300,
          height: 34,
          lineHeight: "34px",
          fontSize: 29,
          textAlign: "center",
          whiteSpace: "nowrap",
          transform: "rotate(-90deg)",
          color: "#000",
        }}
      >
        Flux Density ( Jy )
      </div>
      <div
        style={{
          position: "absolute",
          left: 575 - 200,
          top: 510,
          width: 400,
          height: 34,
          lineHeight: "34px",
          fontSize: 29,
          textAlign: "center",
          whiteSpace: "nowrap",
          color: "#000",
        }}
      >
        V
        <span style={{ fontSize: 14, position: "relative", top: 2 }}>LSR</span>
        {" ( km s"}
        <span style={{ fontSize: 14, position: "relative", top: -10 }}>-1</span>
        {" )"}
      </div>
    </div>
  );
}
